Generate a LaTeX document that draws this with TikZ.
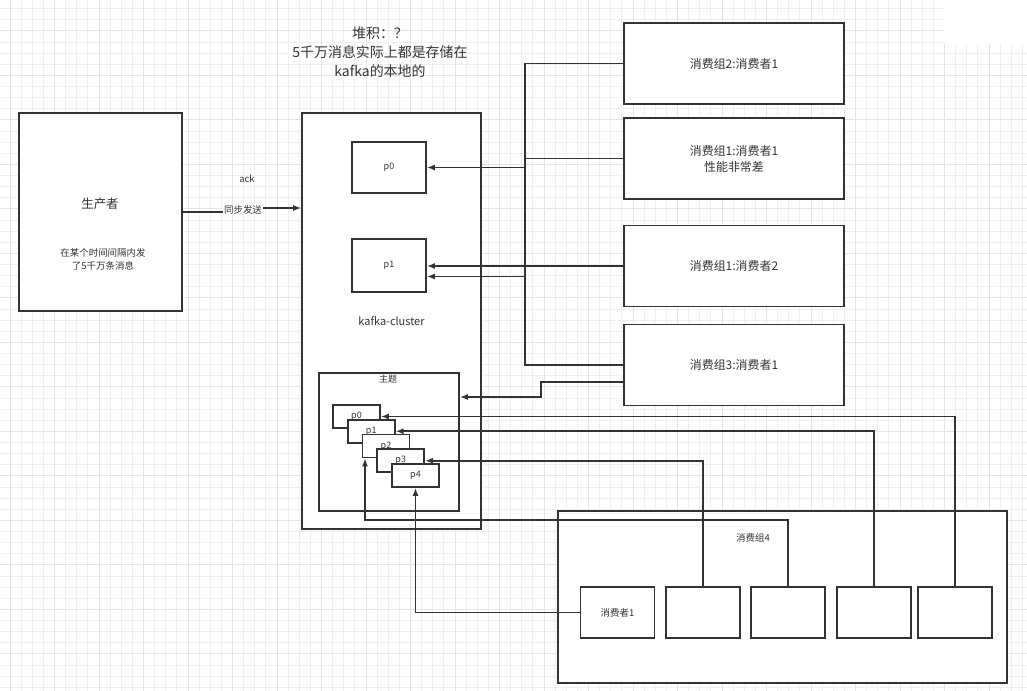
\documentclass[tikz,border=0pt]{standalone}
\usepackage{fontspec}
\setmainfont{Noto Sans CJK SC}
\usetikzlibrary{arrows.meta}
\definecolor{ink}{HTML}{333333}
\definecolor{gridminor}{HTML}{EFEFEF}
\definecolor{gridmajor}{HTML}{E4E4E4}
\begin{document}
\begin{tikzpicture}[x=1bp, y=-1bp, line width=1.6bp, color=ink,
  box node/.style={rectangle,draw=ink,fill=white,inner sep=0pt,font=\fontsize{12}{16}\selectfont,align=center},
  consumer node/.style={box node,minimum width=220bp,minimum height=81bp},
  member node/.style={box node,minimum width=74bp,minimum height=51bp,font=\fontsize{9.5}{11}\selectfont},
  part node/.style={box node,minimum width=47bp,minimum height=23bp,font=\fontsize{9}{10}\selectfont},
  small text/.style={font=\fontsize{9.5}{13}\selectfont,align=center},
  link/.style={draw=ink,line width=1.6bp},
  arrow/.style={link,-{Latex[length=8bp,width=6bp]}}]
\useasboundingbox (0,0) rectangle (1027,691);
\fill[white] (0,0) rectangle (1027,691);
\begin{scope}[line width=0.8bp]
\foreach \i in {0,...,93}
  \draw[gridminor] ({-1.125+\i*11.125},0) -- ({-1.125+\i*11.125},691);
\foreach \j in {0,...,63}
  \draw[gridminor] (0,{-2.575+\j*11.125}) -- (1027,{-2.575+\j*11.125});
\foreach \i in {0,...,23}
  \draw[gridmajor] ({10+\i*44.5},0) -- ({10+\i*44.5},691);
\foreach \j in {0,...,15}
  \draw[gridmajor] (0,{-13.7+\j*44.5}) -- (1027,{-13.7+\j*44.5});
\end{scope}
\fill[white] (943,0) rectangle (1027,44);

\node[font=\fontsize{14}{19}\selectfont,align=center] (pileup) at (380,52) {堆积：？\\5千万消息实际上都是存储在\\kafka的本地的};

\node[box node,minimum width=163bp,minimum height=198bp] (producer) at (100.5,212) {};
\node[font=\fontsize{12.5}{15}\selectfont] (producertitle) at (100,204) {生产者};
\node[small text] (producernote) at (103,259.5) {在某个时间间隔内发\\了5千万条消息};

\node[box node,minimum width=179bp,minimum height=416bp,font=\fontsize{11}{13}\selectfont] (cluster) at (391.5,321) {kafka-cluster};
\node[part node,minimum width=74bp,minimum height=51bp] (p0) at (389,167.5) {p0};
\node[part node,minimum width=74bp,minimum height=53bp] (p1) at (389,265.5) {p1};

\node[box node,minimum width=140bp,minimum height=138bp] (topic) at (389,442) {};
\node[font=\fontsize{9}{10}\selectfont] (topiclabel) at (388,379) {主题};
\foreach \i in {0,...,4}
  \node[part node] (tp\i) at ({356.5+14.75*\i},{416.5+14.75*\i}) {p\i};

\node[consumer node] (cg2c1) at (734,63.5) {消费组2:消费者1};
\node[consumer node] (cg1c1) at (734,158.5) {消费组1:消费者1\\性能非常差};
\node[consumer node] (cg1c2) at (734,266) {消费组1:消费者2};
\node[consumer node] (cg3c1) at (734,365) {消费组3:消费者1};

\node[box node,minimum width=449bp,minimum height=172bp] (group4) at (782.5,597) {};
\node[small text] (group4label) at (753,538) {消费组4};
\node[member node] (m1) at (617.5,612.5) {消费者1};
\foreach \x [count=\n from 2] in {703,788,874,955}
  \node[member node] (m\n) at (\x,612.5) {};

\coordinate (sendjog) at (243,208);
\coordinate (bus) at (525,0);
\coordinate (p1low) at ([yshift=-11bp]p1.east);
\coordinate (topicin) at ([yshift=45bp]topic.east);
\coordinate (p2turn) at (365,520);

\node[small text] (acklabel) at (247,179) {ack};
\draw[arrow] (producer.east) -- (243,212) -- node[fill=white,inner sep=1pt,small text]{同步发送} (sendjog) -- (cluster.west |- sendjog);

\draw[arrow] (cg2c1.west) -| (bus |- p0.east) -- (p0.east);
\draw[link] (cg1c1.west) -- (bus |- cg1c1.west);
\draw[link] (bus |- p0.east) -- (bus |- p1low);
\draw[arrow] (cg1c2.west) -- (cg1c2.west -| p1.east);
\draw[arrow] (cg3c1.west) -| (bus |- p1low) -- (p1low);
\draw[arrow] ([yshift=-17bp]cg3c1.west) -- ++(-82,0) |- (topicin);

\draw[arrow] (m5.north) |- (tp0.east);
\draw[arrow] (m4.north) |- (tp1.east);
\draw[arrow] (m2.north) |- (tp3.east);
\draw[arrow] (m3.north) |- (p2turn) -- ([xshift=-21bp]tp2.south);
\draw[arrow] (m1.west) -| (tp4.south);
\end{tikzpicture}
\end{document}
